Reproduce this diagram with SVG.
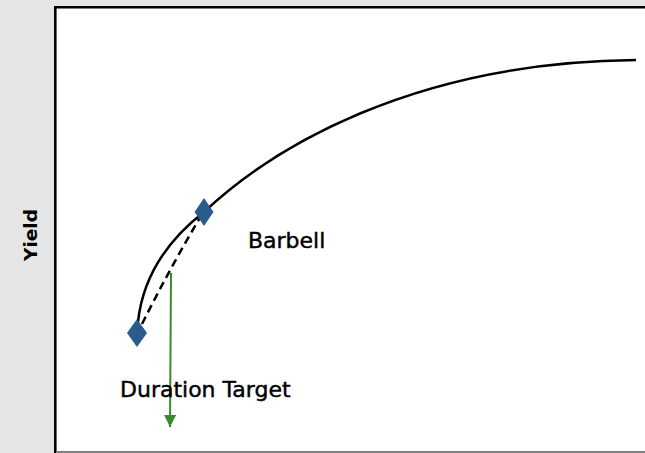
<svg xmlns="http://www.w3.org/2000/svg" width="645" height="453" viewBox="0 0 645 453">
  <defs>
    <style>
      .lbl { font-family: "DejaVu Sans", "Liberation Sans", sans-serif; font-size: 22px; fill: #000; stroke: #000; stroke-width: 0.45px; }
      .axis { font-family: "DejaVu Sans", "Liberation Sans", sans-serif; font-size: 18.5px; font-weight: bold; fill: #000; }
      .pt { fill: #2b5a8c; }
    </style>
    <marker id="ga" viewBox="0 0 12 12" refX="12" refY="6" markerWidth="12" markerHeight="12" markerUnits="userSpaceOnUse" orient="auto">
      <path d="M0,0 L12,6 L0,12 Z" fill="#3a8a2e"/>
    </marker>
  </defs>
  <rect x="0" y="0" width="645" height="453" fill="#e6e6e6"/>
  <g id="plot-area">
    <rect x="55.5" y="7.5" width="600" height="444" fill="#ffffff"/>
    <line x1="54" y1="7.2" x2="645" y2="7.2" stroke="#000" stroke-width="2.6"/>
    <line x1="55.3" y1="6" x2="55.3" y2="453" stroke="#000" stroke-width="2.6"/>
    <line x1="56" y1="452" x2="645" y2="452" stroke="#808080" stroke-width="2"/>
  </g>
  <g id="yield-label">
    <text class="axis" transform="translate(36.5,235) rotate(-90)" text-anchor="middle">Yield</text>
  </g>
  <g id="connectors">
    <path id="yield-curve" d="M138,322 C143,275 168,240 204,212 C270,150 410,62 636,60" fill="none" stroke="#000" stroke-width="2.5"/>
    <path id="barbell-dash" d="M142,324 Q170,268 201,216" fill="none" stroke="#000" stroke-width="2.5" stroke-dasharray="8,5"/>
    <line id="target-arrow" x1="171" y1="273" x2="170" y2="427" stroke="#3a8a2e" stroke-width="2" marker-end="url(#ga)"/>
  </g>
  <g id="point-low">
    <path class="pt" d="M137,319 L147,333 L137,347 L127,333 Z"/>
  </g>
  <g id="point-high">
    <path class="pt" d="M204,198 L213.5,212 L204,226 L194.5,212 Z"/>
  </g>
  <g id="barbell-label">
    <text class="lbl" x="248" y="247.5">Barbell</text>
  </g>
  <g id="duration-label">
    <text class="lbl" x="120" y="397">Duration Target</text>
  </g>
</svg>
